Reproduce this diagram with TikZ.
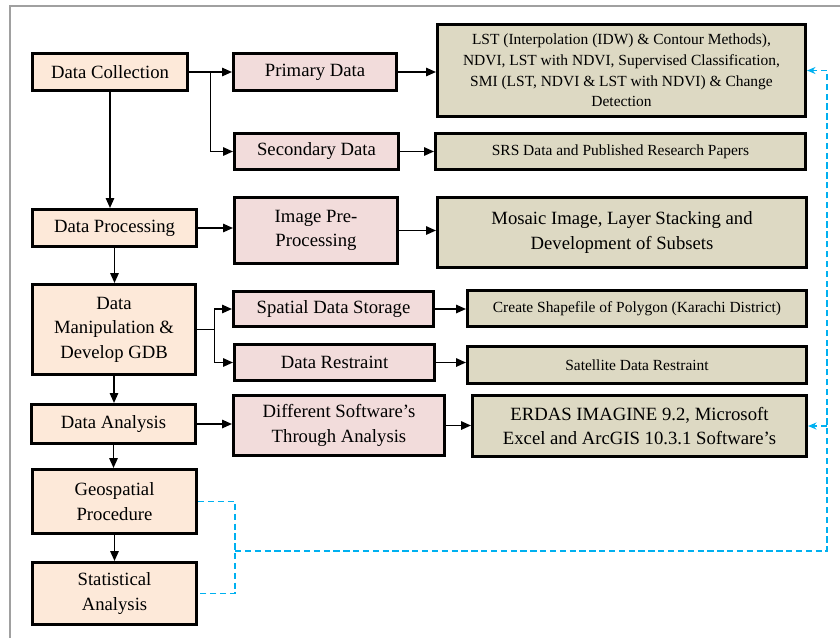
\documentclass[tikz,border=0pt]{standalone}
\usepackage{fontspec}
\setmainfont{Liberation Serif}
\usetikzlibrary{arrows.meta, positioning, calc}
\definecolor{stagefill}{HTML}{FDE9D9}
\definecolor{taskfill}{HTML}{F2DCDB}
\definecolor{resultfill}{HTML}{DDD9C3}
\definecolor{linkblue}{HTML}{00B0F0}
\definecolor{framegray}{HTML}{A0A0A0}

\begin{document}
\begin{tikzpicture}[
    box/.style 2 args={draw=black, line width=2.2pt, minimum width=#1cm, minimum height=#2cm,
                       inner sep=1pt, align=center, font=\fontsize{13.3}{17.5}\selectfont},
    stage/.style 2 args={box={#1}{#2}, fill=stagefill},
    task/.style 2 args={box={#1}{#2}, fill=taskfill},
    result/.style 2 args={box={#1}{#2}, fill=resultfill},
    small/.style={font=\fontsize{11}{14.7}\selectfont},
    arr/.style={-{Triangle[length=7pt,width=6pt]}, line width=1pt},
    link/.style={draw=linkblue, line width=1.1pt, dash pattern=on 4.5pt off 2.5pt},
    linkarr/.style={link, -{Stealth[length=6pt,width=5pt]}},
]
    \useasboundingbox (0,0) rectangle (21,-15.95);
    \draw[framegray, line width=0.8pt] (0.25,-15.95) -- (0.25,-0.15) -- (21,-0.15);

    \node[stage={3.875}{0.925}] (coll) at (2.75, -1.8) {Data Collection};
    \node[stage={4.1}{0.925}] (proc) at (2.8625, -5.7) {Data Processing};
    \node[stage={4.075}{2.25}] (manip) at (2.85, -8.2375) {Data\\Manipulation \&\\Develop GDB};
    \node[stage={4.1}{0.975}] (anal) at (2.8375, -10.6) {Data Analysis};
    \node[stage={4.1}{1.6}] (geo) at (2.8625, -12.5375) {Geospatial\\Procedure};
    \node[stage={4.1}{1.55}] (stat) at (2.8625, -14.8375) {Statistical\\Analysis};

    \node[task={4.075}{0.925}] (prim) at (7.875, -1.8) {Primary Data};
    \node[task={4.1}{0.9}] (sec) at (7.9125, -3.7875) {Secondary Data};
    \node[task={4.075}{1.65}] (pre) at (7.9, -5.7625) {Image Pre-\\Processing};
    \node[task={5.0}{0.875}] (store) at (8.3375, -7.725) {Spatial Data Storage};
    \node[task={5.0}{0.9}] (restr) at (8.3625, -9.0625) {Data Restraint};
    \node[task={5.275}{1.5}] (soft) at (8.475, -10.6375) {Different Software’s\\Through Analysis};

    \node[result={9.2}{2.3}, small] (lst) at (15.5375, -1.7625) {LST (Interpolation (IDW) \& Contour Methods),\\NDVI, LST with NDVI, Supervised Classification,\\SMI (LST, NDVI \& LST with NDVI) \& Change\\Detection};
    \node[result={9.25}{0.9}, small] (srs) at (15.5125, -3.7875) {SRS Data and Published Research Papers};
    \node[result={9.225}{1.75}] (mosaic) at (15.55, -5.8125) {Mosaic Image, Layer Stacking and\\Development of Subsets};
    \node[result={8.475}{0.9}, small] (shape) at (15.925, -7.7125) {Create Shapefile of Polygon (Karachi District)};
    \node[result={8.475}{0.925}, small] (sat) at (15.925, -9.125) {Satellite Data Restraint};
    \node[result={8.35}{1.525}] (erdas) at (15.9875, -10.65) {ERDAS IMAGINE 9.2, Microsoft\\Excel and ArcGIS 10.3.1 Software’s};

    \draw[arr] (coll.east) -- (prim.west);
    \draw[arr] ($(coll.east)!.5!(prim.west)$) |- (sec.west);
    \draw[arr] (coll.south) -- (coll.south |- proc.north);
    \draw[arr] (proc.east) -- (proc.east -| pre.west);
    \draw[arr] (proc.south) -- (proc.south |- manip.north);
    \draw[arr] (manip.east) -- ($(manip.east)!.5!(manip.east -| store.west)$) coordinate (split) |- (store.west);
    \draw[arr] (split) |- (restr.west);
    \draw[arr] (manip.south) -- (manip.south |- anal.north);
    \draw[arr] (anal.east) -- (anal.east -| soft.west);
    \draw[arr] (anal.south) -- (anal.south |- geo.north);
    \draw[arr] (geo.south) -- (geo.south |- stat.north);

    \draw[arr] (prim.east) -- (prim.east -| lst.west);
    \draw[arr] (sec.east) -- (sec.east -| srs.west);
    \draw[arr] (pre.east) -- (pre.east -| mosaic.west);
    \draw[arr] (store.east) -- (store.east -| shape.west);
    \draw[arr] (restr.east) -- (restr.east -| sat.west);
    \draw[arr] (soft.east) -- (soft.east -| erdas.west);

    \coordinate (bus) at (5.875, -13.775);
    \coordinate (rt) at (20.675, -13.775);
    \draw[link] (geo.east) -| (bus) |- (stat.east);
    \draw[linkarr] (bus) -- (rt) |- (lst.east);
    \draw[linkarr] (rt |- erdas.east) -- (erdas.east);
\end{tikzpicture}
\end{document}
